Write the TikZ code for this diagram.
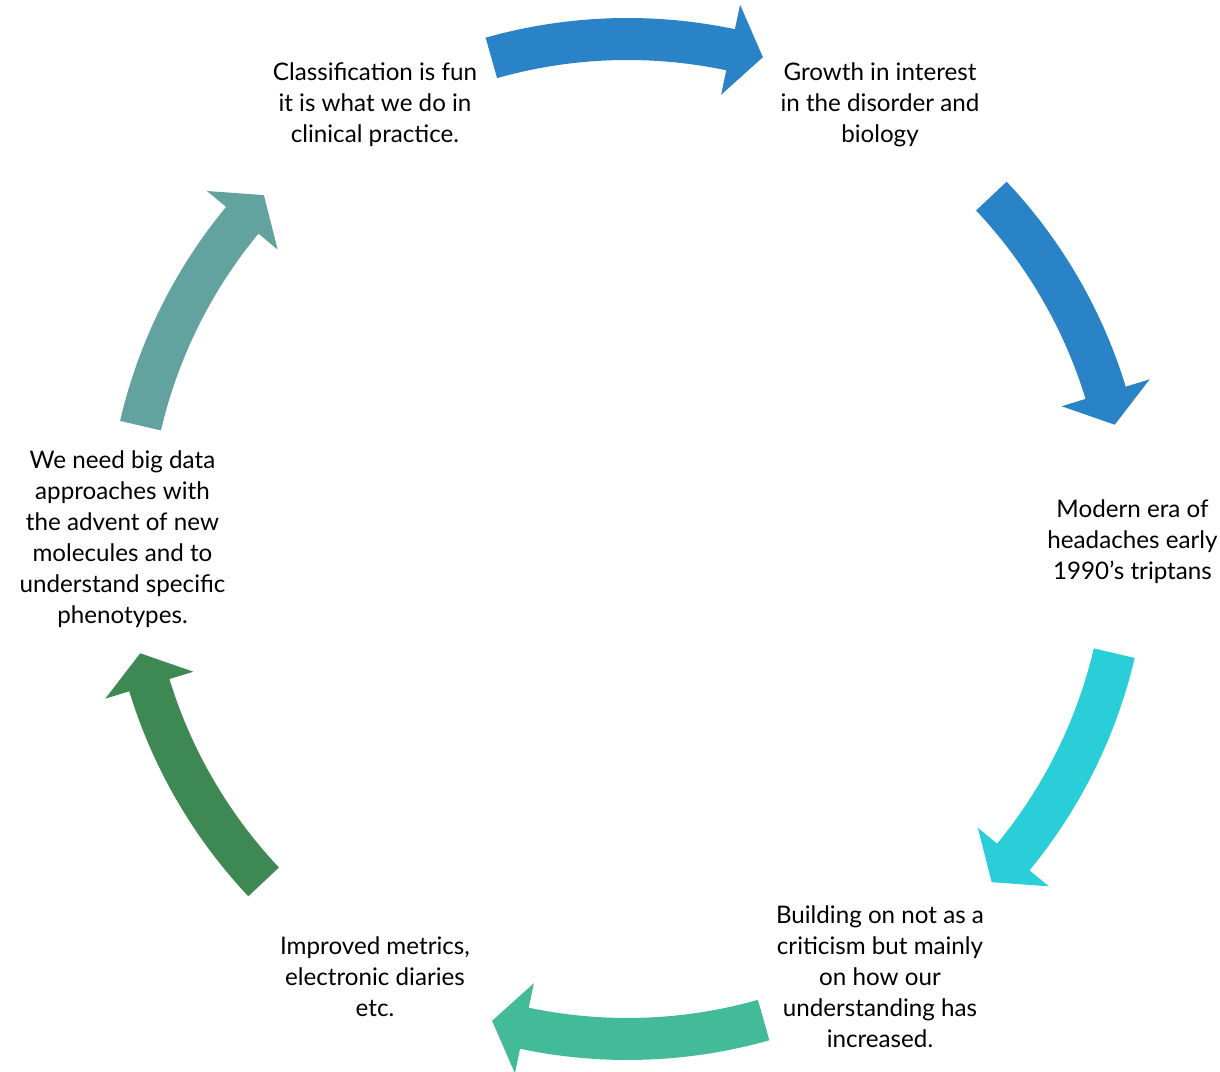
\documentclass[tikz,border=0pt]{standalone}
\usepackage{fontspec}
\setmainfont{Lato}
\usepackage{xcolor}
\definecolor{CycleBlue}{HTML}{2983C6}
\definecolor{CycleCyan}{HTML}{29CED8}
\definecolor{CycleMint}{HTML}{43BA98}
\definecolor{CycleGreen}{HTML}{3E8853}
\definecolor{CycleTeal}{HTML}{62A39F}

% block arrow bent along the cycle: colour, tail angle, tip angle
\newcommand{\cyclearrow}[3]{%
  \pgfmathsetmacro{\headbase}{#3+3.8}%
  \fill[#1] (#2:52.1) arc[start angle=#2, end angle=\headbase, radius=52.1]
    -- (\headbase:54.6) -- (#3:50.05) -- (\headbase:45.4) -- (\headbase:47.9)
    arc[start angle=\headbase, end angle=#2, radius=47.9] -- cycle;}

\begin{document}
\begin{tikzpicture}[scale=0.25,
    stage/.style={align=center, font=\fontsize{17.2}{22}\selectfont, inner sep=0pt}]
  \useasboundingbox (-62.75,-53.3) rectangle (59.25,53.9);

  % Stages
  \node[stage, yshift=-0.8mm] (classif) at (120:50.5) {Classification is fun\\it is what we do in\\clinical practice.};
  \node[stage, yshift=-0.8mm] (growth) at (60:50.5) {Growth in interest\\in the disorder and\\biology};
  \node[stage, yshift=-0.6mm] (modern) at (0:50.5) {Modern era of\\headaches early\\1990’s triptans};
  \node[stage] (building) at (-60:50.5) {Building on not as a\\criticism but mainly\\on how our\\understanding has\\increased.};
  \node[stage] (metrics) at (-120:50.5) {Improved metrics,\\electronic diaries\\etc.};
  \node[stage] (bigdata) at (180:50.5) {We need big data\\approaches with\\the advent of new\\molecules and to\\understand specific\\phenotypes.};

  % Arrows
  \cyclearrow{CycleBlue}{105.8}{74.3}
  \cyclearrow{CycleBlue}{43.3}{13.2}
  \cyclearrow{CycleCyan}{-13.2}{-43.3}
  \cyclearrow{CycleMint}{-74.2}{-105.7}
  \cyclearrow{CycleGreen}{-136.7}{-166.8}
  \cyclearrow{CycleTeal}{166.9}{136.6}
\end{tikzpicture}
\end{document}
